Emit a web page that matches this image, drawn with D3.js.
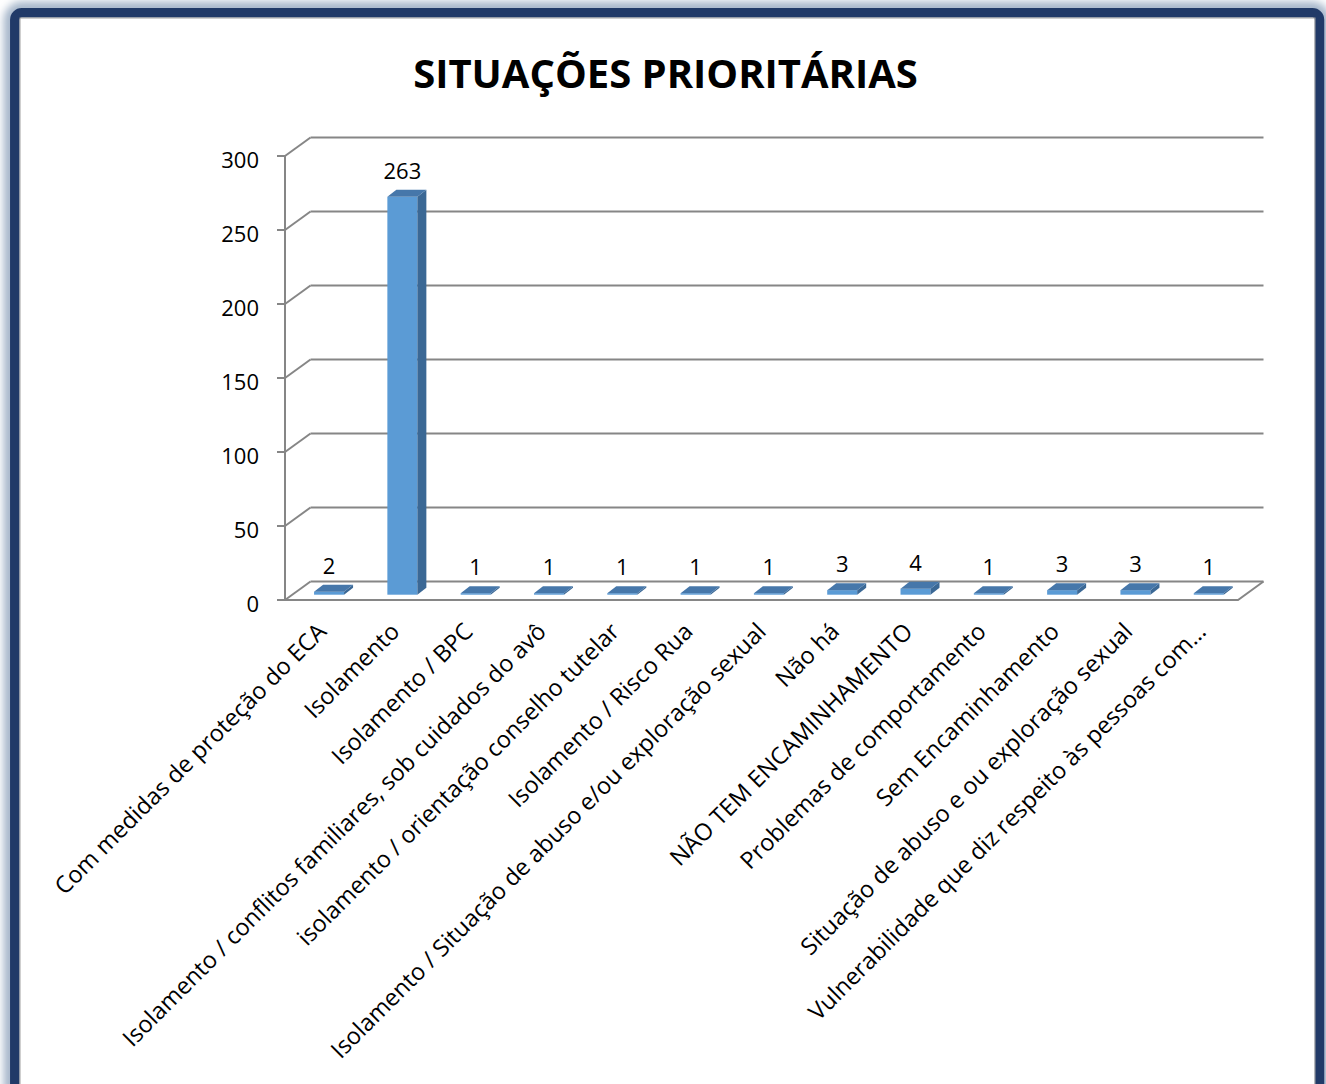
<!DOCTYPE html>
<html>
<head>
<meta charset="utf-8">
<script src="https://cdn.jsdelivr.net/npm/d3@7"></script>
<style>
  body { margin: 0; background: #fff; }
  svg { display: block; font-family: "Open Sans", sans-serif; }
</style>
</head>
<body>
<div id="chart-container"></div>
<script>
const categories = [
  "Com medidas de proteção do ECA",
  "Isolamento",
  "Isolamento / BPC",
  "Isolamento / conflitos familiares, sob cuidados do avô",
  "isolamento / orientação conselho tutelar",
  "Isolamento / Risco Rua",
  "Isolamento / Situação de abuso e/ou exploração sexual",
  "Não há",
  "NÃO TEM ENCAMINHAMENTO",
  "Problemas de comportamento",
  "Sem Encaminhamento",
  "Situação de abuso e ou exploração sexual",
  "Vulnerabilidade que diz respeito às pessoas com…"
];
const values = [2, 263, 1, 1, 1, 1, 1, 3, 4, 1, 3, 3, 1];
const yTicks = [0, 50, 100, 150, 200, 250, 300];
const chartTitle = "SITUAÇÕES PRIORITÁRIAS";

class Bar3DChart {
  constructor(selector) {
    this.width = 1326;
    this.height = 1084;
    // oblique depth of the plot box
    this.depthX = 25.5;
    this.depthY = -18.5;
    this.svg = d3.select(selector).append("svg").
    attr("width", this.width).attr("height", this.height);

    this.drawFrame();
    this.setupScales();
    this.drawWalls();
    this.drawBars();
    this.drawLabels();
  }

  drawFrame() {
    let defs = this.svg.append("defs");
    defs.append("filter").attr("id", "glow").
    attr("x", "-5%").attr("y", "-5%").attr("width", "110%").attr("height", "110%").
    append("feGaussianBlur").attr("stdDeviation", 4);

    this.svg.append("rect").
    attr("x", 10).attr("y", 8).attr("width", 1314).attr("height", 1110).
    attr("rx", 12).
    attr("fill", "none").
    attr("stroke", "#9fb0c6").attr("stroke-width", 12).
    attr("filter", "url(#glow)");

    this.svg.append("rect").
    attr("x", 14.8).attr("y", 12.8).attr("width", 1304.7).attr("height", 1100).
    attr("rx", 7).
    attr("fill", "#ffffff").
    attr("stroke", "#213a68").attr("stroke-width", 9.5);

    this.svg.append("rect").
    attr("x", 20).attr("y", 18).attr("width", 1295).attr("height", 1100).
    attr("fill", "none").
    attr("stroke", "#a0a0a0").attr("stroke-width", 1);

    this.svg.append("text").
    attr("x", 665.5).attr("y", 88).
    attr("text-anchor", "middle").
    attr("font-size", 40).attr("font-weight", "bold").
    text(chartTitle);
  }

  setupScales() {
    this.x = d3.scaleBand().domain(categories).range([285, 1238]);
    this.yFront = d3.scaleLinear().domain([0, 300]).range([600, 156]);
    // bars stand a bit inside the box, perspective makes them slightly taller
    this.yBar = d3.scaleLinear().domain([0, 300]).range([594.7, 140.8]);
  }

  drawWalls() {
    let grid = this.svg.append("g").
    attr("stroke", "#868686").attr("stroke-width", 2).attr("fill", "none");
    let [x0, x1] = this.x.range();
    let dx = this.depthX, dy = this.depthY;

    // back wall gridlines
    grid.selectAll(".back").data(yTicks).enter().append("line").
    attr("x1", x0 + dx).attr("x2", x1 + dx).
    attr("y1", d => this.yFront(d) + dy).attr("y2", d => this.yFront(d) + dy);

    // side wall gridlines
    grid.selectAll(".side").data(yTicks).enter().append("line").
    attr("x1", x0).attr("x2", x0 + dx).
    attr("y1", d => this.yFront(d)).attr("y2", d => this.yFront(d) + dy);

    // tick marks
    grid.selectAll(".tick").data(yTicks).enter().append("line").
    attr("x1", x0 - 8).attr("x2", x0).
    attr("y1", d => this.yFront(d)).attr("y2", d => this.yFront(d));

    // axis line and floor
    grid.append("line").
    attr("x1", x0).attr("x2", x0).
    attr("y1", this.yFront(0)).attr("y2", this.yFront(300));
    grid.append("path").
    attr("d", `M${x0},${this.yFront(0)}H${x1}l${dx},${dy}`);

    this.svg.append("g").selectAll("text").data(yTicks).enter().append("text").
    attr("x", 259).attr("y", d => this.yFront(d) + 4).
    attr("dy", "0.36em").
    attr("text-anchor", "end").
    attr("font-size", 22).
    text(d => d);
  }

  barGeometry(cat, value) {
    let center = this.x(cat) + this.x.bandwidth() / 2 + 7.4;
    return {
      left: center - 15,
      right: center + 15,
      top: this.yBar(value),
      bottom: this.yBar(0),
      center: center
    };
  }

  drawBars() {
    let bd = 9, bdy = -7;
    let bars = this.svg.append("g").selectAll("g").
    data(categories.map((c, i) => ({ cat: c, value: values[i] }))).enter().
    append("g").attr("class", "bar");

    bars.append("rect").
    attr("x", d => this.barGeometry(d.cat, d.value).left).
    attr("y", d => this.barGeometry(d.cat, d.value).top).
    attr("width", 30).
    attr("height", d => {
      let g = this.barGeometry(d.cat, d.value);
      return g.bottom - g.top;
    }).
    attr("fill", "#5b9bd5");

    bars.append("path").
    attr("fill", "#3b6895").
    attr("d", d => {
      let g = this.barGeometry(d.cat, d.value);
      return `M${g.right},${g.top}l${bd},${bdy}V${g.bottom + bdy}l${-bd},${-bdy}Z`;
    });

    bars.append("path").
    attr("fill", "#4677aa").
    attr("d", d => {
      let g = this.barGeometry(d.cat, d.value);
      return `M${g.left},${g.top}l${bd},${bdy}H${g.right + bd}l${-bd},${-bdy}Z`;
    });

    bars.append("text").
    attr("x", d => this.barGeometry(d.cat, d.value).center).
    attr("y", d => this.barGeometry(d.cat, d.value).top + bdy - 11).
    attr("text-anchor", "middle").
    attr("font-size", 22).
    text(d => d.value);
  }

  drawLabels() {
    this.svg.append("g").selectAll("text").data(categories).enter().append("text").
    attr("text-anchor", "end").
    attr("font-size", 23.5).
    attr("transform", d => {
      let cx = this.x(d) + this.x.bandwidth() / 2 + 6;
      return `translate(${cx}, 633) rotate(-45)`;
    }).
    text(d => d);
  }}


const chart = new Bar3DChart("#chart-container");
</script>
</body>
</html>
